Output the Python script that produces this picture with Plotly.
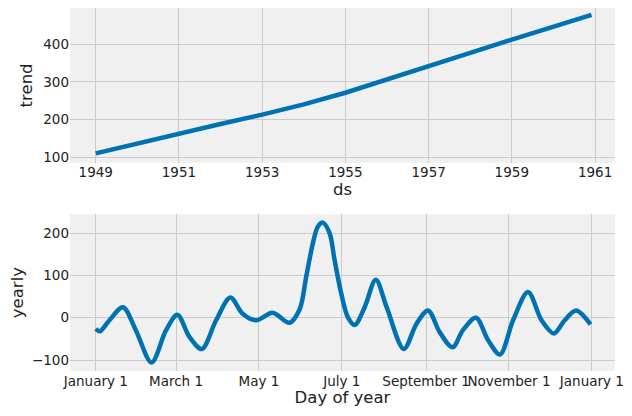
import pandas as pd
import plotly.graph_objects as go
from plotly.subplots import make_subplots

# trend component
trend_dates = ["1949-01-01", "1950-01-01", "1951-01-01", "1952-01-01", "1953-01-01",
               "1954-01-01", "1955-01-01", "1956-01-01", "1957-01-01", "1958-01-01",
               "1959-01-01", "1960-01-01", "1960-12-01"]
trend_values = [110, 137, 163, 188, 213, 240, 271, 307, 342, 377, 412, 446, 478]

# yearly seasonality: day of year (0 = January 1) and value
yearly_days = [0, 3, 10, 20, 29.5, 41, 51.6, 60, 69, 78, 88.5, 99, 108, 118, 130,
               142.5, 150, 154.8, 159.7, 163.4, 167, 172, 175.7, 180.6, 185.5,
               190.5, 197.8, 206, 214, 226.6, 236, 244.5, 253, 262.5, 270, 279.7,
               288.8, 297.4, 307, 318, 328, 337, 345, 353.4, 364]
yearly_values = [-26, -32, -6, 25, -30, -106, -30, 7, -46, -74, -6, 48, 9.5, -6, 12,
                 -12, 20, 97, 176, 216, 225, 200, 136, 57, 1,
                 -17, 25, 90, 25, -74, -14, 17, -34, -70, -30, 0,
                 -54, -87, -6, 61, -6, -37, -6, 17, -16]

month_ticks = ["2017-01-01", "2017-03-01", "2017-05-01", "2017-07-01",
               "2017-09-01", "2017-11-01", "2018-01-01"]
month_labels = ["January 1", "March 1", "May 1", "July 1",
                "September 1", "November 1", "January 1"]
year_ticks = ["1949", "1951", "1953", "1955", "1957", "1959", "1961"]

line_color = "#0072B2"
grid_color = "#cbcbcb"
font = "DejaVu Sans"

yearly_x = pd.Timestamp("2017-01-01") + pd.to_timedelta(yearly_days, unit="D")

fig = make_subplots(rows=2, cols=1, vertical_spacing=0.14)

fig.add_trace(go.Scatter(x=pd.to_datetime(trend_dates), y=trend_values, mode="lines",
                         line=dict(color=line_color, width=4.5)), row=1, col=1)
fig.add_trace(go.Scatter(x=yearly_x, y=yearly_values, mode="lines",
                         line=dict(color=line_color, width=4.5, shape="spline",
                                   smoothing=0.9)), row=2, col=1)

axis_style = dict(showgrid=True, gridcolor=grid_color, gridwidth=1, zeroline=False,
                  showline=False, ticks="", tickangle=0, automargin=False,
                  tickfont=dict(size=13.5, color="#222"),
                  title_font=dict(size=16.5, color="#222"))

fig.update_xaxes(**axis_style)
fig.update_yaxes(**axis_style)

fig.update_xaxes(row=1, col=1, domain=[0, 1],
                 range=["1948-05-20", "1961-06-25"],
                 tickvals=[y + "-01-01" for y in year_ticks], ticktext=year_ticks,
                 title_text="ds", title_standoff=2)
fig.update_yaxes(row=1, col=1, domain=[0.5735, 1.0], range=[85, 496],
                 tickvals=[100, 200, 300, 400], title_text="trend", title_standoff=6)

fig.update_xaxes(row=2, col=1, domain=[0, 1],
                 range=["2016-12-13", "2018-01-18"],
                 tickvals=month_ticks, ticktext=month_labels,
                 title_text="Day of year", title_standoff=2)
fig.update_yaxes(row=2, col=1, domain=[0.0, 0.432], range=[-126, 245],
                 tickvals=[-100, 0, 100, 200], title_text="yearly", title_standoff=6)

# the page body adds 8px around the figure, so the figure is 16px smaller
fig.update_layout(
    width=616, height=400,
    margin=dict(l=62, r=9, t=0, b=37),
    paper_bgcolor="white", plot_bgcolor="#f0f0f0",
    showlegend=False,
    font=dict(family=font, color="#222"),
)

fig.write_html("out.html")
